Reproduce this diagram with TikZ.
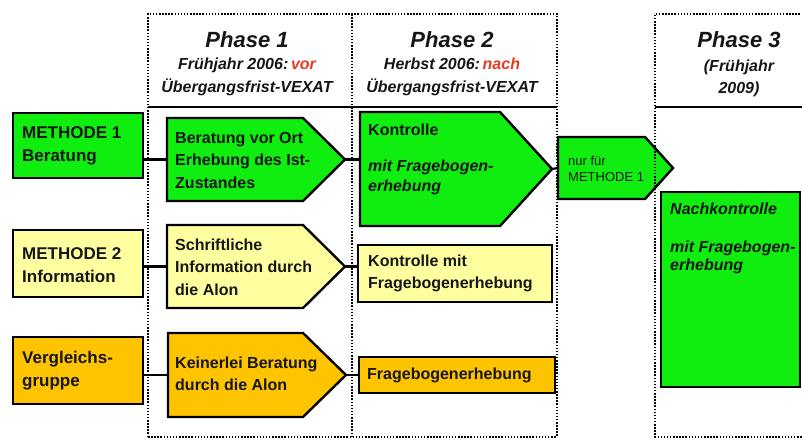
\documentclass[tikz,border=0pt]{standalone}
\usepackage{fontspec}
\setmainfont{Liberation Sans}
\definecolor{vgreen}{RGB}{15,238,15}
\definecolor{vyellow}{RGB}{255,255,160}
\definecolor{vgold}{RGB}{255,196,0}
\definecolor{vred}{RGB}{232,58,32}
\definecolor{vtext}{RGB}{22,22,22}
\newcommand\arrowbox[7]{% name, x1, ytop, xbody, xtip, ybottom, fill
  \draw[boxline, fill=#7] (#2,#3) -- (#4,#3) -- (#5,{(#3+#6)/2}) -- (#4,#6) -- (#2,#6) -- cycle;
  \coordinate (#1-w) at (#2,{(#3+#6)/2});
  \coordinate (#1-e) at (#5,{(#3+#6)/2});
}
\begin{document}
\begin{tikzpicture}[x=1pt,y=-1pt,
  boxline/.style={draw=black,line width=2.4pt,line join=miter},
  rectbox/.style={boxline,anchor=north west,inner sep=0pt,outer sep=0pt},
  dotline/.style={line width=1.7pt,dash pattern=on 1.5pt off 1.6pt},
  conn/.style={line width=2.2pt},
  txt/.style={font=\bfseries\fontsize{16}{22.5}\selectfont,align=left,inner sep=0pt,text=vtext},
  itx/.style={font=\bfseries\itshape\fontsize{16}{20}\selectfont,align=left,inner sep=0pt,text=vtext},
  mtx/.style={font=\bfseries\fontsize{17}{23}\selectfont,align=left,inner sep=0pt,text=vtext},
  small/.style={font=\fontsize{13}{16.5}\selectfont,align=left,inner sep=0pt,text=vtext},
  phase/.style={font=\bfseries\itshape\fontsize{22}{26}\selectfont,anchor=base,inner sep=0pt,text=vtext},
  hdr/.style={font=\bfseries\itshape\fontsize{16}{20}\selectfont,anchor=base,inner sep=0pt,text=vtext}]
\useasboundingbox[fill=white] (0,0) rectangle (802,439);

% ---------- boxes row 1
\node[rectbox,fill=vgreen,minimum width=130pt,minimum height=65pt] (m1) at (13,113) {};
\arrowbox{b1}{167}{118}{303}{345}{201}{vgreen}
\arrowbox{k1}{360}{112}{500}{552}{226}{vgreen}
\arrowbox{n1}{558}{137}{645}{673}{199}{vgreen}
\node[rectbox,fill=vgreen,minimum width=139pt,minimum height=195pt] (nk) at (661,192) {};

% ---------- boxes row 2
\node[rectbox,fill=vyellow,minimum width=130pt,minimum height=67pt] (m2) at (13,230) {};
\arrowbox{s2}{167}{225}{303}{345}{308}{vyellow}
\node[rectbox,fill=vyellow,minimum width=194pt,minimum height=57pt] (k2) at (358,245) {};

% ---------- boxes row 3
\node[rectbox,fill=vgold,minimum width=130pt,minimum height=67pt] (v3) at (13,337) {};
\arrowbox{k3}{168}{333}{303}{346}{417}{vgold}
\node[rectbox,fill=vgold,minimum width=196pt,minimum height=36pt] (f3) at (359,357) {};

% ---------- connectors
\draw[conn] (m1.east |- b1-w) -- (b1-w);
\draw[conn] (b1-e) -- (b1-e -| k1-w);
\draw[conn] (k1-e) -- (n1-w);
\draw[conn] (m2.east |- s2-w) -- (s2-w);
\draw[conn] (s2-e) -- (s2-e -| k2.west);
\draw[conn] (v3.east |- k3-w) -- (k3-w);
\draw[conn] (k3-e) -- (k3-e -| f3.west);

% ---------- phase frames
\draw[dotline] (148,437) -- (148,14) -- (557,14) -- (557,437);
\draw[dotline] (352,14) -- (352,437);
\draw[dotline] (148,437) -- (557,437);
\draw[dotline] (803,14) -- (655,14) -- (655,437) -- (803,437);
\draw[line width=1.6pt] (148,107) -- (557,107);
\draw[line width=1.6pt] (655,107) -- (802,107);

% ---------- headers
\node[phase] (p1) at (247,47) {Phase 1};
\node[hdr] (p1a) at (247,69) {Frühjahr 2006:\,\textcolor{vred}{vor}};
\node[hdr] (p1b) at (247,92) {Übergangsfrist-VEXAT};
\node[phase] (p2) at (452,47) {Phase 2};
\node[hdr] (p2a) at (452,69) {Herbst 2006:\,\textcolor{vred}{nach}};
\node[hdr] (p2b) at (452,92) {Übergangsfrist-VEXAT};
\node[phase] (p3) at (739,47) {Phase 3};
\node[hdr] (p3a) at (739,71) {(Frühjahr};
\node[hdr] (p3b) at (739,93) {2009)};

% ---------- texts
\node[mtx,anchor=west] (m1t) at (22,146) {METHODE 1\\Beratung};
\node[txt,anchor=west] (b1t) at (175,160) {Beratung vor Ort\\Erhebung des Ist-\\Zustandes};
\node[txt,anchor=base west] (k1t) at (368,135) {Kontrolle};
\node[itx,anchor=base west] (k1u) at (368,171) {mit Fragebogen-};
\node[itx,anchor=base west] (k1v) at (368,191) {erhebung};
\node[small,anchor=west] (n1t) at (568,169) {nur für\\METHODE 1};
\node[itx,anchor=base west] (nkt) at (670,214) {Nachkontrolle};
\node[itx,anchor=base west] (nku) at (670,252) {mit Fragebogen-};
\node[itx,anchor=base west] (nkv) at (670,270) {erhebung};

\node[mtx,anchor=west] (m2t) at (22,265) {METHODE 2\\Information};
\node[txt,anchor=west] (s2t) at (175,267) {Schriftliche\\Information durch\\die Alon};
\node[txt,anchor=west] (k2t) at (368,273.5) {Kontrolle mit\\Fragebogenerhebung};

\node[mtx,anchor=west] (v3t) at (22,371) {Vergleichs-\\gruppe};
\node[txt,anchor=west] (k3t) at (175,374) {Keinerlei Beratung\\durch die Alon};
\node[txt,anchor=west] (f3t) at (367,375) {Fragebogenerhebung};
\end{tikzpicture}
\end{document}
